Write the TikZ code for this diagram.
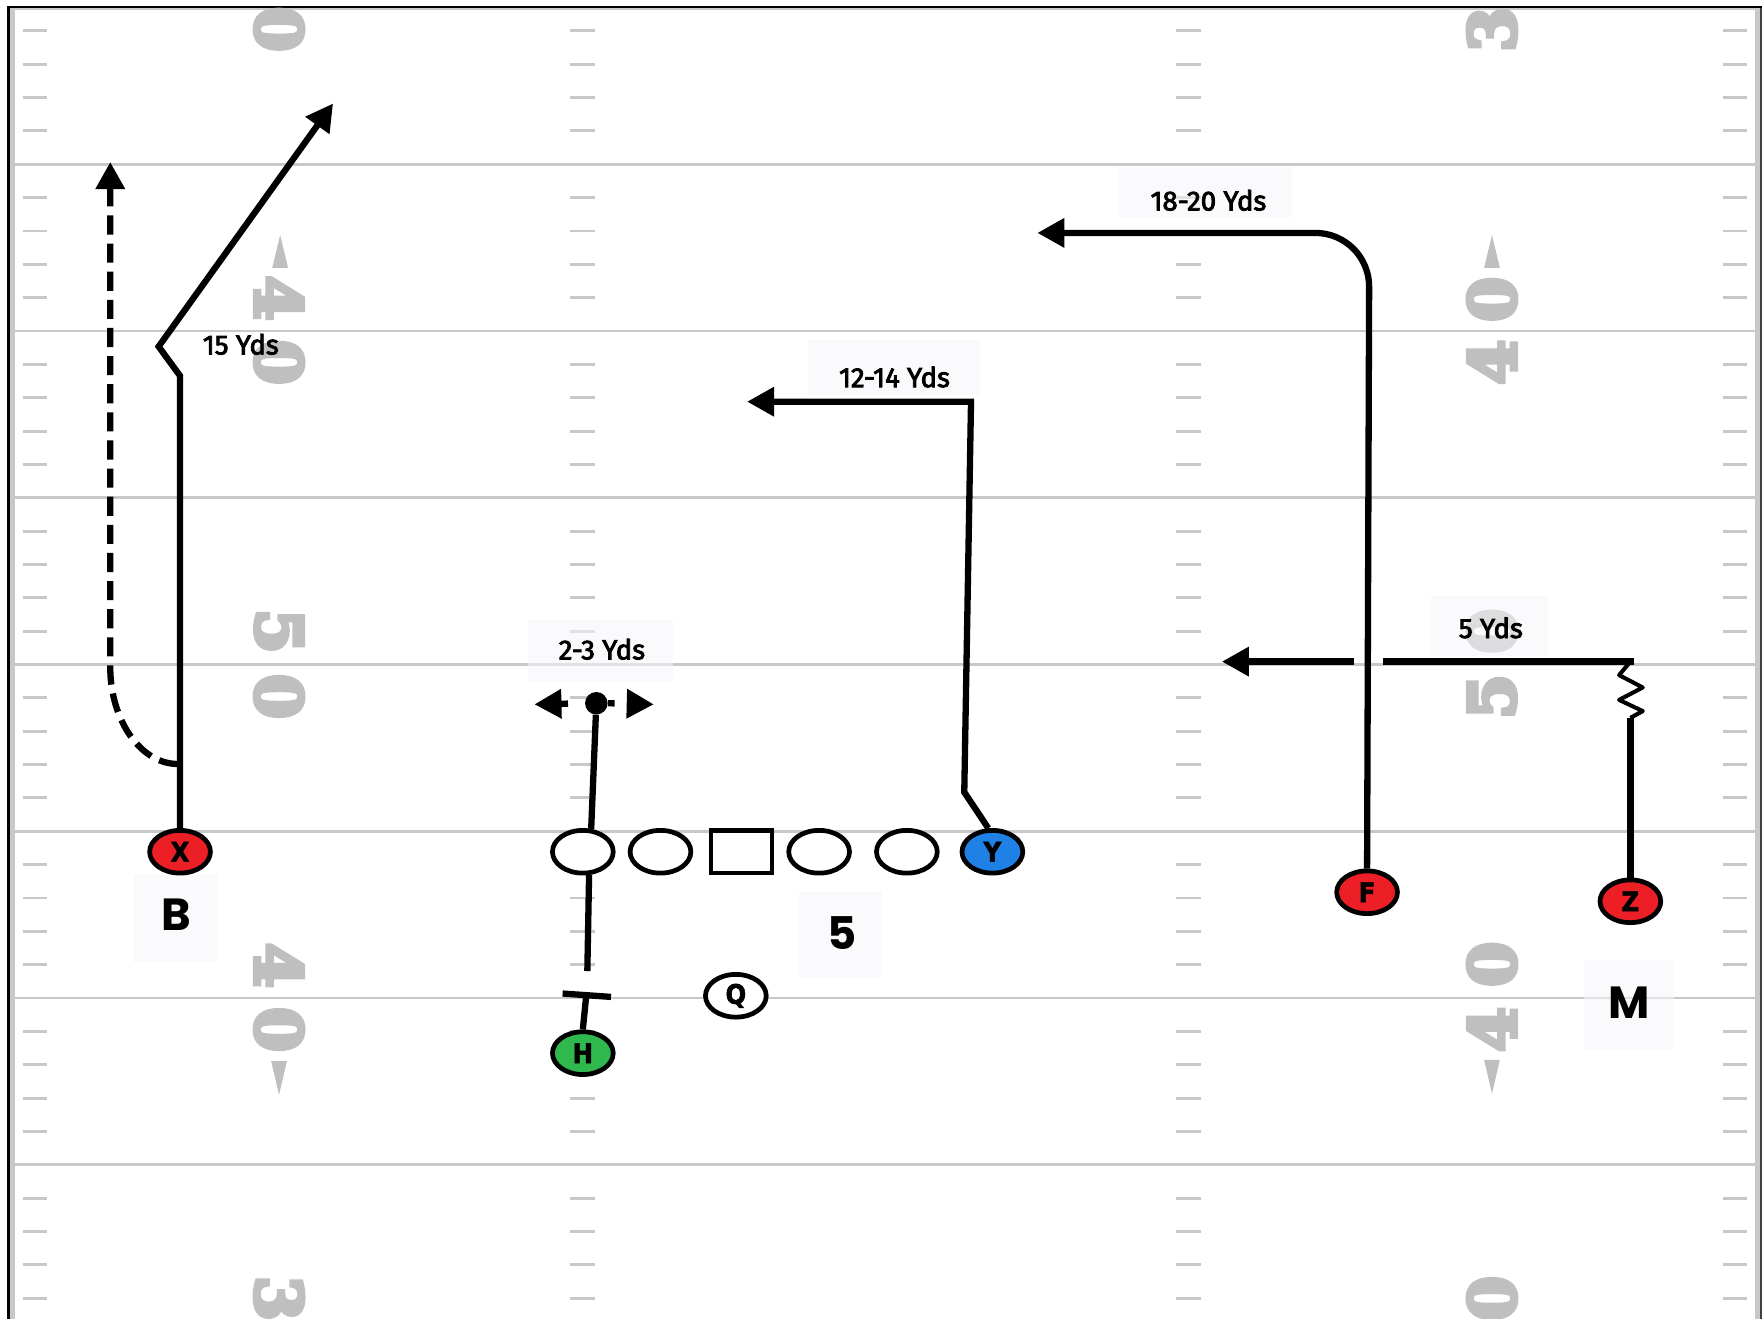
\documentclass[tikz,border=0pt]{standalone}
\usepackage{fontspec}
\setmainfont{Fira Sans}
\newfontfamily\numfont{DejaVu Serif}[FakeBold=7,BoldFeatures={FakeBold=7}]
\newfontfamily\bigfont{Poppins}
\newfontfamily\lblfont{Fira Sans}[FakeBold=3]
\newfontfamily\plfont{DejaVu Sans Condensed}[FakeBold=2,BoldFeatures={FakeBold=2}]
\usetikzlibrary{arrows.meta,shapes.geometric}
\definecolor{fieldgray}{HTML}{C8C8C8}
\definecolor{numgray}{HTML}{BFBFBF}
\definecolor{pred}{HTML}{EC1F26}
\definecolor{pblue}{HTML}{1F80E6}
\definecolor{pgreen}{HTML}{2FB84E}
\definecolor{boxtint}{HTML}{F7F7FA}
\begin{document}
\begin{tikzpicture}[x=1pt,y=-1pt,
  yard/.style={draw=fieldgray, line width=2.4pt},
  hashmark/.style={draw=fieldgray, line width=2.6pt},
  fieldnum/.style={text=numgray, inner sep=0pt, font=\numfont\bfseries\fontsize{57}{57}\selectfont},
  numarrow/.style={fill=numgray},
  lblbox/.style={fill=boxtint, fill opacity=0.55},
  player/.style={ellipse, draw=black, line width=4.2pt, minimum width=54pt, minimum height=38pt, inner sep=0pt, font=\plfont\bfseries\fontsize{24}{24}\selectfont},
  linebox/.style={rectangle, draw=black, line width=4.2pt, minimum width=54pt, minimum height=38pt, inner sep=0pt, fill=white},
  route/.style={draw=black, line width=5.6pt},
  rtip/.style={-{Triangle[length=24pt,width=25pt]}},
  routelbl/.style={font=\lblfont\fontsize{24.5}{24.5}\selectfont, inner sep=0pt},
  biglbl/.style={font=\bigfont\bfseries\fontsize{40}{40}\selectfont, inner sep=0pt},
  pdot/.style={circle, fill=black, minimum size=20pt, inner sep=0pt}
]
\fill[white] (0,0) rectangle (1566,1172);
\useasboundingbox (0,0) rectangle (1566,1172);
\clip (0,0) rectangle (1566,1172);

% yard lines
\foreach \L in {0,...,6} {
  \pgfmathsetmacro\yy{146+148.2*\L}
  \draw[yard] (13,\yy) -- (1560,\yy);
}
% hash marks
\foreach \L in {-1,...,6} {
  \foreach \j in {1,...,4} {
    \pgfmathsetmacro\ty{146+148.2*\L+29.64*\j}
    \foreach \tx in {20,507,1045,1531} {
      \draw[hashmark] (\tx,\ty) -- ++(22,0);
    }
  }
}
% frame
\fill[fieldgray] (9,7) rectangle (13,1172);
\fill[fieldgray] (1560,7) rectangle (1564,1172);
\fill[black!75] (1564,5) rectangle (1566,1172);
\draw[black, line width=2pt] (7.5,5) -- (7.5,1172);
\draw[black, line width=2pt] (6.5,6) -- (1566,6);
\draw[fieldgray, line width=1pt] (13,8) -- (1560,8);

% field numbers, left side
\node[fieldnum, rotate=-90] (n1) at (248,26) {0};
\node[fieldnum, rotate=-90] (n2) at (248,265) {4};
\node[fieldnum, rotate=-90] (n3) at (248,322) {0};
\node[fieldnum, rotate=-90] (n4) at (248,561) {5};
\node[fieldnum, rotate=-90] (n5) at (248,619) {0};
\node[fieldnum, rotate=-90] (n6) at (248,858) {4};
\node[fieldnum, rotate=-90] (n7) at (248,915) {0};
\node[fieldnum, rotate=-90] (n8) at (248,1154) {3};
\fill[numarrow] (249,209) -- (256,238) -- (242,238) -- cycle;
\fill[numarrow] (248,973) -- (255,943) -- (241,943) -- cycle;
% field numbers, right side
\node[fieldnum, rotate=90] (m1) at (1326,26) {3};
\node[fieldnum, rotate=90] (m2) at (1326,266) {0};
\node[fieldnum, rotate=90] (m3) at (1326,322) {4};
\node[fieldnum, rotate=90] (m4) at (1326,561) {0};
\node[fieldnum, rotate=90] (m5) at (1326,619) {5};
\node[fieldnum, rotate=90] (m6) at (1326,857) {0};
\node[fieldnum, rotate=90] (m7) at (1326,915) {4};
\node[fieldnum, rotate=90] (m8) at (1326,1154) {0};
\fill[numarrow] (1326,209) -- (1333,238) -- (1319,238) -- cycle;
\fill[numarrow] (1326,972) -- (1333,942) -- (1319,942) -- cycle;

% label backgrounds
\fill[lblbox] (118,777) rectangle (193,855);
\fill[lblbox] (710,793) rectangle (784,868);
\fill[lblbox] (1408,853) rectangle (1488,932);
\fill[lblbox] (469,551) rectangle (598,606);
\fill[lblbox] (718,302) rectangle (871,351);
\fill[lblbox] (994,148) rectangle (1148,193);
\fill[lblbox] (1272,530) rectangle (1376,584);

% players
\node[player, fill=pred] (X) at (160,757) {X};
\node[player, fill=white] (LT) at (518,757) {};
\node[player, fill=white] (LG) at (587,757) {};
\node[linebox] (C) at (659,757) {};
\node[player, fill=white] (RG) at (728,757) {};
\node[player, fill=white] (RT) at (806,757) {};
\node[player, fill=pblue] (Y) at (882,757) {Y};
\node[player, fill=white] (Q) at (654,885) {Q};
\node[player, fill=pgreen] (H) at (518,936) {H};
\node[player, fill=pred] (F) at (1215,793) {F};
\node[player, fill=pred] (Z) at (1449,801) {Z};
\node[pdot] (D) at (530,625) {};

% X routes
\coordinate (xk1) at (160,334);
\coordinate (xk2) at (141,308);
\coordinate (xt) at (296,92);
\draw[route, rtip] (X.north) -- (xk1) -- (xk2) -- (xt);
\coordinate (xb) at (158,679);
\coordinate (xc) at (98,593);
\coordinate (xdt) at (98,144);
\draw[route, rtip, dash pattern=on 17pt off 8pt] (xb) .. controls (125,679) and (98,640) .. (xc) -- (xdt);

% H and tackle
\coordinate (hb) at (521,885);
\coordinate (hbl) at (500,883);
\coordinate (hbr) at (543,886);
\draw[route] (H.north) -- (hb);
\draw[route] (hbl) -- (hbr);
\coordinate (hg) at (522,863);
\draw[route] (hg) -- (LT.-75);
\draw[route] (LT.70) -- (D);
\coordinate (dl) at (475,626);
\coordinate (dr) at (581,626);
\draw[route, rtip, dash pattern=on 0pt off 15pt on 12pt] (D.west) -- (dl);
\draw[route, rtip, dash pattern=on 6pt off 30pt] (D.east) -- (dr);

% Y route
\coordinate (yk1) at (857,704);
\coordinate (yk2) at (863,357);
\coordinate (yt) at (664,357);
\draw[route, rtip] (Y.100) -- (yk1) -- (yk2) -- (yt);

% F route
\coordinate (fk) at (1217,207);
\coordinate (ft) at (922,207);
\draw[route, rtip, rounded corners=48pt] (F.north) -- (fk) -- (ft);

% Z route
\coordinate (zz1) at (1449,638);
\coordinate (zz2) at (1460,632);
\coordinate (zz3) at (1439,622);
\coordinate (zz4) at (1460,611);
\coordinate (zz5) at (1439,600);
\coordinate (zc) at (1449,588);
\coordinate (zce) at (1451.8,588);
\coordinate (zg1) at (1229,588);
\coordinate (zg2) at (1203,588);
\coordinate (zt) at (1086,588);
\draw[route] (Z.north) -- (zz1);
\draw[route, line width=3.6pt, line join=round] (zz1) -- (zz2) -- (zz3) -- (zz4) -- (zz5) -- (zc);
\draw[route] (zce) -- (zg1);
\draw[route, rtip] (zg2) -- (zt);

% labels
\node[routelbl] (l15) at (214,306) {15 Yds};
\node[routelbl] (l23) at (535,577) {2-3 Yds};
\node[routelbl] (l1214) at (795,335) {12-14 Yds};
\node[routelbl] (l1820) at (1074,178) {18-20 Yds};
\node[routelbl] (l5) at (1325,558) {5 Yds};
\node[biglbl] (lB) at (157,813) {B};
\node[biglbl] (l5b) at (748,829) {5};
\node[biglbl] (lM) at (1448,891) {M};
\end{tikzpicture}
\end{document}
